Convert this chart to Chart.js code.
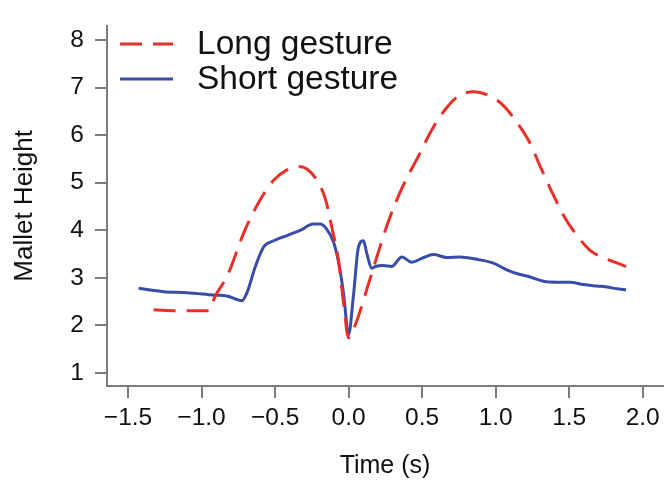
<!DOCTYPE html>
<html><head><meta charset="utf-8">
<script src="https://cdn.jsdelivr.net/npm/chart.js@4"></script>
<style>html,body{margin:0;padding:0;background:#fff}#wrap{width:668px;height:481px}</style>
</head><body><div id="wrap"><canvas id="c" width="668" height="481"></canvas></div>
<script>
const seriesLabels = ['Long gesture', 'Short gesture'];
const xTicks = [-1.5, -1.0, -0.5, 0.0, 0.5, 1.0, 1.5, 2.0];
const yTicks = [1, 2, 3, 4, 5, 6, 7, 8];

const longT = [-1.326, -1.15, -0.95, -0.907, -0.827, -0.703, -0.601, -0.510, -0.419, -0.340, -0.283, -0.215, -0.159, -0.114, -0.069, -0.035, 0.0, 0.045, 0.124, 0.192, 0.271, 0.362, 0.475, 0.577, 0.668, 0.747, 0.849, 0.962, 1.053, 1.144, 1.234, 1.302, 1.382, 1.472, 1.563, 1.642, 1.721, 1.800, 1.887];
const longV = [2.33, 2.31, 2.31, 2.62, 3.03, 4.02, 4.64, 5.05, 5.27, 5.34, 5.29, 5.05, 4.67, 4.06, 3.37, 2.49, 1.74, 2.01, 2.76, 3.44, 4.19, 4.88, 5.56, 6.17, 6.58, 6.82, 6.91, 6.82, 6.62, 6.27, 5.83, 5.35, 4.81, 4.26, 3.85, 3.58, 3.44, 3.34, 3.24];

const shortT = [-1.428, -1.258, -1.099, -0.918, -0.827, -0.725, -0.691, -0.634, -0.578, -0.510, -0.419, -0.329, -0.239, -0.193, -0.148, -0.102, -0.069, -0.035, 0.0, 0.033, 0.067, 0.101, 0.124, 0.158, 0.181, 0.237, 0.294, 0.362, 0.430, 0.498, 0.577, 0.668, 0.758, 0.872, 0.985, 1.075, 1.166, 1.234, 1.325, 1.416, 1.506, 1.597, 1.687, 1.755, 1.823, 1.887];
const shortV = [2.78, 2.71, 2.69, 2.64, 2.62, 2.52, 2.69, 3.24, 3.65, 3.78, 3.89, 4.00, 4.13, 4.13, 4.02, 3.75, 3.34, 2.69, 1.81, 2.63, 3.65, 3.78, 3.51, 3.20, 3.24, 3.26, 3.24, 3.44, 3.33, 3.41, 3.49, 3.43, 3.44, 3.39, 3.31, 3.17, 3.07, 3.02, 2.93, 2.91, 2.91, 2.86, 2.83, 2.81, 2.77, 2.75];

const RED = 'rgb(232,48,40)';
const BLUE = 'rgb(56,76,168)';
const AXIS = '#7c7c7c';
const TEXT = '#111';
const FONT = "'Liberation Sans', Arial, Helvetica, sans-serif";

const toXY = (ts, vs) => ts.map((t, i) => ({x: t, y: vs[i]}));

const legendPlugin = {
  id: 'innerLegend',
  afterDatasetsDraw(chart) {
    const ctx = chart.ctx;
    const x0 = chart.chartArea.left + 13;
    const rows = [44, 79];
    chart.data.datasets.forEach((ds, i) => {
      const y = rows[i];
      ctx.save();
      ctx.strokeStyle = ds.borderColor;
      ctx.lineWidth = ds.borderWidth;
      ctx.setLineDash(ds.borderDash || []);
      ctx.beginPath();
      ctx.moveTo(x0, y);
      ctx.lineTo(x0 + 53, y);
      ctx.stroke();
      ctx.setLineDash([]);
      ctx.fillStyle = TEXT;
      ctx.font = "33.5px " + FONT;
      ctx.textBaseline = 'middle';
      ctx.textAlign = 'left';
      ctx.fillText(ds.label, x0 + 77, y + 1);
      ctx.restore();
    });
  }
};

new Chart(document.getElementById('c'), {
  type: 'scatter',
  data: {
    datasets: [
      {label: seriesLabels[0], data: toXY(longT, longV), showLine: true, borderColor: RED, borderWidth: 3, borderDash: [22, 11], pointRadius: 0, cubicInterpolationMode: 'monotone', fill: false},
      {label: seriesLabels[1], data: toXY(shortT, shortV), showLine: true, borderColor: BLUE, borderWidth: 3, pointRadius: 0, cubicInterpolationMode: 'monotone', fill: false}
    ]
  },
  options: {
    responsive: false,
    animation: false,
    devicePixelRatio: 1,
    layout: {padding: {left: 0, right: 5, top: 16, bottom: 0}},
    plugins: {legend: {display: false}, tooltip: {enabled: false}},
    scales: {
      x: {
        type: 'linear', min: -1.643, max: 2.138,
        afterBuildTicks: s => { s.ticks = xTicks.map(v => ({value: v})); },
        afterFit: s => { s.height = 95; },
        grid: {drawOnChartArea: false, drawTicks: true, tickLength: 12, color: AXIS, lineWidth: 2},
        border: {display: true, color: AXIS, width: 2},
        ticks: {color: TEXT, font: {family: FONT, size: 24.5}, padding: 6, maxRotation: 0, autoSkip: false,
          callback: v => (v < 0 ? '\u2212' : '') + Math.abs(v).toFixed(1)},
        title: {display: true, text: 'Time (s)', color: TEXT, font: {family: FONT, size: 25}, padding: {top: 11, bottom: 0}}
      },
      y: {
        type: 'linear', min: 0.728, max: 8.30,
        afterBuildTicks: s => { s.ticks = yTicks.map(v => ({value: v})); },
        afterFit: s => { s.width = 107; },
        grid: {drawOnChartArea: false, drawTicks: true, tickLength: 12, color: AXIS, lineWidth: 2},
        border: {display: true, color: AXIS, width: 2},
        ticks: {color: TEXT, font: {family: FONT, size: 24.5}, padding: 11, autoSkip: false,
          callback: v => String(v)},
        title: {display: true, text: 'Mallet Height', color: TEXT, font: {family: FONT, size: 26}, padding: {top: 9, bottom: 0}}
      }
    }
  },
  plugins: [legendPlugin]
});
</script>
</body></html>
